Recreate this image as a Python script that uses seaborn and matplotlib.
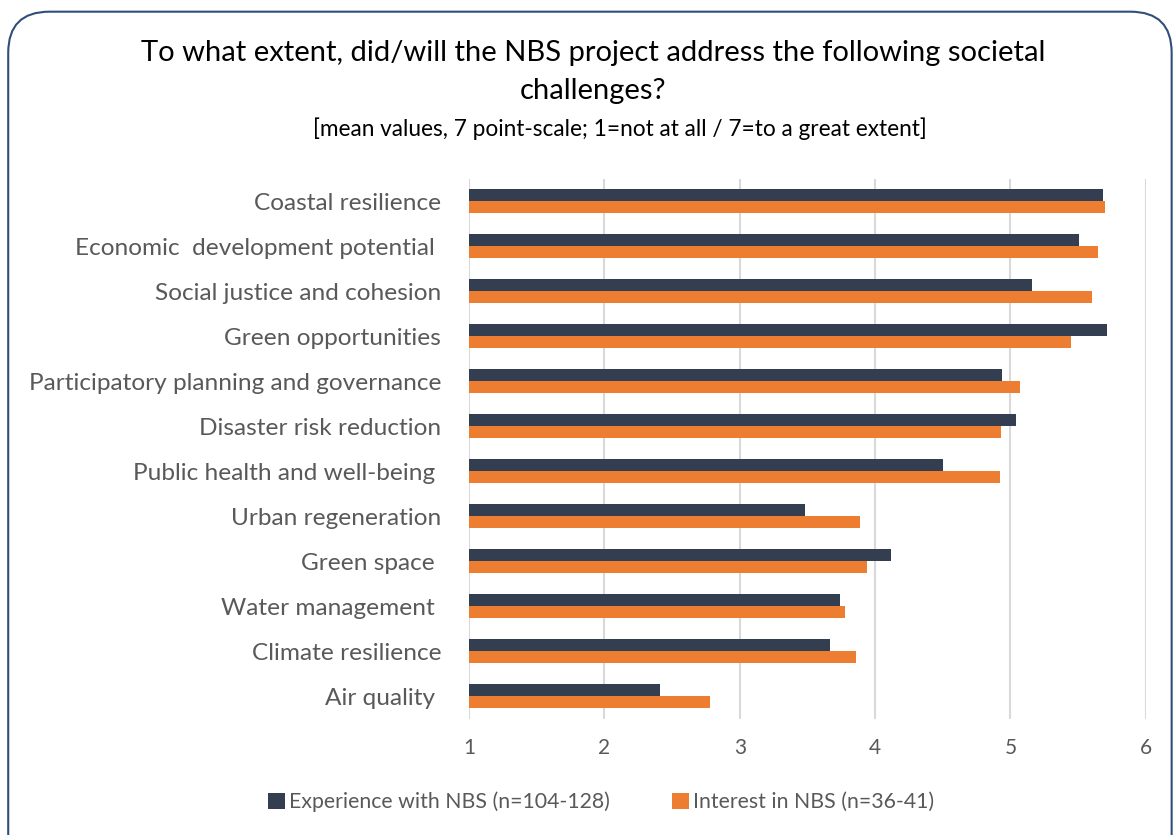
import matplotlib
matplotlib.use("Agg")
import matplotlib.pyplot as plt
from matplotlib.patches import FancyBboxPatch
import seaborn as sns
import pandas as pd

categories = [
    "Coastal resilience",
    "Economic  development potential ",
    "Social justice and cohesion",
    "Green opportunities",
    "Participatory planning and governance",
    "Disaster risk reduction",
    "Public health and well-being ",
    "Urban regeneration",
    "Green space ",
    "Water management ",
    "Climate resilience",
    "Air quality ",
]
experience = [5.68, 5.51, 5.16, 5.71, 4.94, 5.04, 4.50, 3.48, 4.12, 3.74, 3.67, 2.41]
interest = [5.70, 5.65, 5.60, 5.45, 5.07, 4.93, 4.92, 3.89, 3.94, 3.78, 3.86, 2.78]
series_names = ["Experience with NBS (n=104-128)", "Interest in NBS (n=36-41)"]
xticks = [1, 2, 3, 4, 5, 6]

colors = ["#333F50", "#ED7D31"]

df = pd.DataFrame({
    "category": categories * 2,
    "value": experience + interest,
    "series": [series_names[0]] * len(categories) + [series_names[1]] * len(categories),
})

sns.set_style("white")
plt.rcParams["font.family"] = ["Lato", "DejaVu Sans"]

fig = plt.figure(figsize=(11.74, 8.35), dpi=100)
ax = fig.add_axes([0.3995, 0.1395, 0.5765, 0.6467])

sns.barplot(data=df, y="category", x="value", hue="series", order=categories,
            hue_order=series_names, palette=colors, width=0.53, orient="h",
            saturation=1, ax=ax, legend=True, edgecolor="none")

ax.set_xlim(1, 6)
ax.set_xticks(xticks)
ax.set_xticklabels([str(t) for t in xticks])
ax.set_xlabel("")
ax.set_ylabel("")
for s in ax.spines.values():
    s.set_visible(False)
ax.grid(axis="x", color="#D9D9D9", linewidth=1.5)
ax.set_axisbelow(True)
ax.tick_params(axis="y", length=0, pad=20, labelsize=17.6, labelcolor="#595959")
ax.tick_params(axis="x", length=0, pad=14, labelsize=15, labelcolor="#595959")

handles, labels = ax.get_legend_handles_labels()
ax.get_legend().remove()
fig.legend(handles, labels, loc="center", bbox_to_anchor=(0.512, 0.0395), ncol=2,
           frameon=False, fontsize=15.3, handlelength=0.8, handleheight=0.8,
           handletextpad=0.2, columnspacing=2.9, labelcolor="#595959")

fig.text(0.505, 0.936, "To what extent, did/will the NBS project address the following societal",
         ha="center", va="center", fontsize=21, color="#000000")
fig.text(0.505, 0.891, "challenges?", ha="center", va="center", fontsize=21, color="#000000")
fig.text(0.528, 0.846, "[mean values, 7 point-scale; 1=not at all / 7=to a great extent]",
         ha="center", va="center", fontsize=16.3, color="#000000")

border = FancyBboxPatch((0.007, -0.05), 0.991, 1.036, transform=fig.transFigure,
                        boxstyle="round,pad=0,rounding_size=0.035", fill=False,
                        edgecolor="#2F4E79", linewidth=1.5, mutation_aspect=1174 / 835)
fig.patches.append(border)

fig.savefig("out.png", dpi=100)
